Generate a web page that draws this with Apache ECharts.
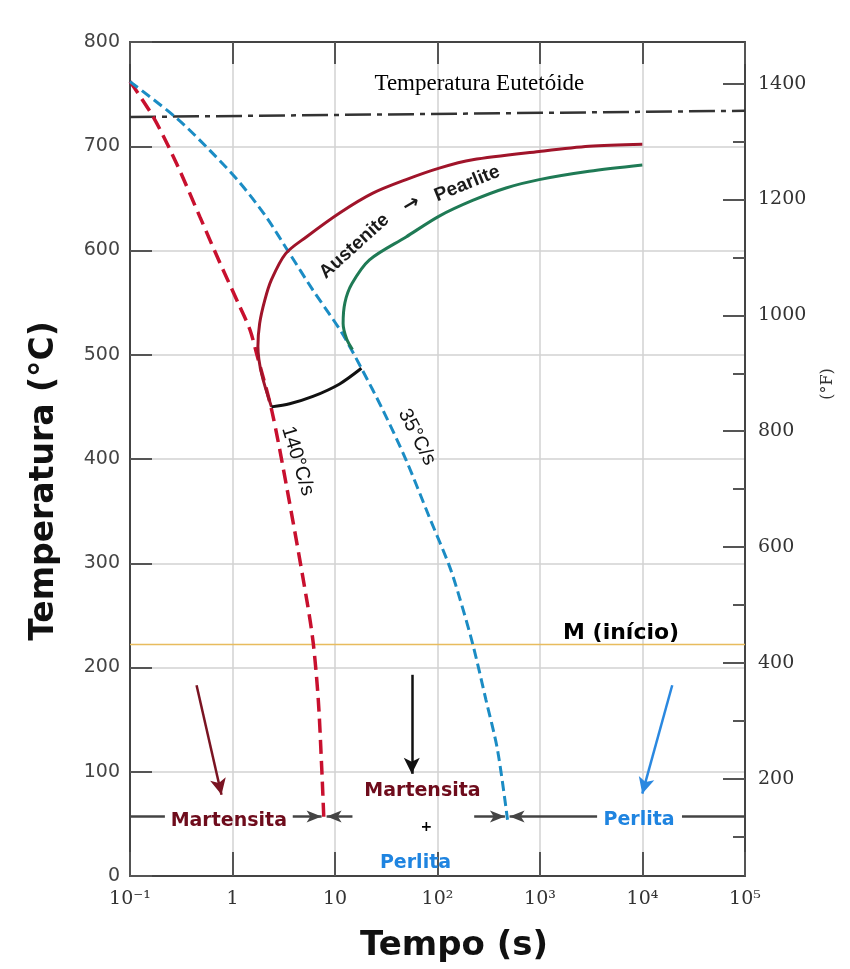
<!DOCTYPE html>
<html><head><meta charset="utf-8">
<script src="https://cdn.jsdelivr.net/npm/echarts@6/dist/echarts.min.js"></script>
<style>html,body{margin:0;padding:0;background:#fff}#c{width:850px;height:969px}</style>
</head><body><div id="c"></div>
<script>
// ---- data ----
const xTickLabels = ['10\u207B\u00B9','1','10','10\u00B2','10\u00B3','10\u2074','10\u2075'];
const fMajorTicks = [200,400,600,800,1000,1200,1400];
const fMinorTicks = [100,300,500,700,900,1100,1300];

// cooling curves [time s, temperature °C]
const cool140 = [[0.1,762],[0.169,728],[0.286,683],[0.482,632],[0.755,588],[1.18,546],[1.48,524],[1.72,501],[2.41,447],[3.38,373],[5.30,265],[6.14,223],[6.87,169],[7.41,105],[7.81,51]];
const cool35 = [[0.1,762],[0.285,727],[0.601,696],[1.18,665],[2.14,632],[3.61,597],[6.09,562],[11.5,522],[18.1,487],[29.3,447],[49.4,399],[83.4,344],[131,297],[163,268],[220,223],[297,169],[385,121],[482,54]];
// transformation curves
const pearliteStart = [[2.40,450],[1.92,482],[1.77,508],[1.84,530],[2.06,552],[2.40,572],[3.3,597],[5.25,613],[11.1,636],[23.4,655],[49.4,668],[104,679],[220,687],[982,695],[3013,700],[9960,702]];
const pearliteFinish = [[14.8,505],[13.0,515],[12.0,530],[12.5,550],[14.6,568],[21.7,591],[49.4,613],[104,633],[220,648],[466,660],[982,668],[3013,676],[9960,682]];
const transitionStop = [[2.40,450],[3.61,453],[6.09,460],[11.1,472],[18.1,487]];
const eutectoid = [[0.1,728],[1e5,734]];
const msLine = [[0.1,222],[1e5,222]];

// product line at the bottom
const productLevel = 57;
const productPlain = [[0.1,0.219],[24270,1e5]];
const productArrows = [[3.87,7.4],[14.8,8.28],[228,455],[3606,505]]; // [from, to] arrow head at "to"

// annotation arrows [from time, from T, to time, to T]
const noteArrows = [[0.446,183,0.781,78],[56.1,193,56.1,98],[19500,183,9950,79]];

// text annotations
const labelTexts = ['Temperatura Eutet\u00F3ide','Austenite','\u2192','Pearlite','140\u00B0C/s','35\u00B0C/s','M (in\u00EDcio)','Martensita','Martensita','+','Perlita','Perlita'];
const labelX = [256, 15.5, 55.7, 195, 4.33, 63, 6180, 0.92, 71.3, 78, 61, 9250];
const labelT = [760, 604, 644, 664, 398, 421, 233, 53, 81, 47, 12.5, 54];

// ---- styles ----
const labelStyles = [
  {fontFamily:'Liberation Serif', fontSize:23, color:'#000', rotate:0},
  {fontFamily:'Liberation Sans', fontWeight:'bold', fontSize:19, color:'#1a1a1a', rotate:42},
  {fontFamily:'DejaVu Sans', fontWeight:'bold', fontSize:20, color:'#1a1a1a', rotate:30},
  {fontFamily:'Liberation Sans', fontWeight:'bold', fontSize:19, color:'#1a1a1a', rotate:22},
  {fontFamily:'Liberation Sans', fontSize:20, color:'#111', rotate:-73},
  {fontFamily:'Liberation Sans', fontSize:20, color:'#111', rotate:-63},
  {fontFamily:'DejaVu Sans', fontWeight:'bold', fontSize:22, color:'#000', rotate:0},
  {fontFamily:'DejaVu Sans', fontWeight:'bold', fontSize:19, color:'#6e0c1c', rotate:0},
  {fontFamily:'DejaVu Sans', fontWeight:'bold', fontSize:19, color:'#6e0c1c', rotate:0},
  {fontFamily:'DejaVu Sans', fontWeight:'bold', fontSize:14, color:'#000', rotate:0},
  {fontFamily:'DejaVu Sans', fontWeight:'bold', fontSize:19, color:'#1f84e0', rotate:0},
  {fontFamily:'DejaVu Sans', fontWeight:'bold', fontSize:19, color:'#1f84e0', rotate:0}
];
const noteColors = ['#7a1422','#111','#2a88e0'];

const chart = echarts.init(document.getElementById('c'), null, {renderer:'canvas'});

const productMarks = [];
productPlain.forEach(s => productMarks.push([
  {coord:[s[0],productLevel], symbol:'none', lineStyle:{color:'#444', width:2.5, type:'solid'}},
  {coord:[s[1],productLevel], symbol:'none'}
]));
productArrows.forEach(s => productMarks.push([
  {coord:[s[0],productLevel], symbol:'none', lineStyle:{color:'#444', width:2.5, type:'solid'}},
  {coord:[s[1],productLevel], symbol:'arrow', symbolSize:[9,15]}
]));
noteArrows.forEach((a,i) => productMarks.push([
  {coord:[a[0],a[1]], symbol:'none', lineStyle:{color:noteColors[i], width:2.5, type:'solid'}},
  {coord:[a[2],a[3]], symbol:'arrow', symbolSize:[12,16], itemStyle:{color:noteColors[i]}}
]));

const labelData = labelTexts.map((t,i) => ({
  value:[labelX[i], labelT[i]],
  label:Object.assign({show:true, position:[0,0], formatter:t, align:'center', verticalAlign:'middle',
    opacity:1, textBorderWidth:0, textShadowBlur:0}, labelStyles[i])
}));

const axisLineStyle = {color:'#444', width:2};
const tickStyle = {color:'#555', width:2};
const gridLine = {show:true, lineStyle:{color:'#d2d2d2', width:1.5}};

chart.setOption({
  animation:false,
  backgroundColor:'#fff',
  grid:{left:130, right:105, top:42, bottom:93, containLabel:false},
  xAxis:[
    {type:'log', logBase:10, min:0.1, max:1e5, splitNumber:6, position:'bottom',
     axisLine:{show:true, onZero:false, lineStyle:axisLineStyle},
     axisTick:{show:true, inside:true, length:24, lineStyle:tickStyle},
     axisLabel:{show:true, margin:14, fontFamily:'DejaVu Serif', fontSize:19, color:'#333',
       formatter:v => xTickLabels[Math.round(Math.log10(v)) + 1] || ''},
     splitLine:gridLine},
    {type:'log', logBase:10, min:0.1, max:1e5, splitNumber:6, position:'top',
     axisLine:{show:true, onZero:false, lineStyle:axisLineStyle},
     axisTick:{show:true, inside:true, length:22, lineStyle:tickStyle},
     axisLabel:{show:false}, splitLine:{show:false}}
  ],
  yAxis:[
    {type:'value', min:0, max:800, interval:100, position:'left',
     axisLine:{show:true, onZero:false, lineStyle:axisLineStyle},
     axisTick:{show:true, inside:true, length:22, lineStyle:tickStyle},
     axisLabel:{margin:10, fontFamily:'DejaVu Sans', fontSize:19, color:'#444'},
     splitLine:gridLine},
    {type:'value', min:32, max:1472, position:'right',
     axisLine:{show:true, onZero:false, lineStyle:axisLineStyle},
     axisTick:{show:true, inside:true, length:22, lineStyle:tickStyle, customValues:fMajorTicks},
     axisLabel:{show:true, margin:13, fontFamily:'DejaVu Serif', fontSize:19, color:'#333',
       customValues:fMajorTicks, formatter:v => String(Math.round(v))},
     splitLine:{show:false}},
    {type:'value', min:32, max:1472, position:'right',
     axisLine:{show:false},
     axisTick:{show:true, inside:true, length:12, lineStyle:tickStyle, customValues:fMinorTicks},
     axisLabel:{show:false, customValues:fMinorTicks},
     splitLine:{show:false}}
  ],
  graphic:[
    {type:'text', x:44, y:481, rotation:Math.PI/2,
     style:{text:'Temperatura (\u00B0C)', x:0, y:0, align:'center', verticalAlign:'middle',
       font:'bold 33px "DejaVu Sans"', fill:'#111'}},
    {type:'text', x:454, y:946,
     style:{text:'Tempo (s)', x:0, y:0, align:'center', verticalAlign:'middle',
       font:'bold 34px "DejaVu Sans"', fill:'#111'}},
    {type:'text', x:828, y:384, rotation:Math.PI/2,
     style:{text:'(\u00B0F)', x:0, y:0, align:'center', verticalAlign:'middle',
       font:'16px "DejaVu Serif"', fill:'#333'}}
  ],
  series:[
    {name:'Eutectoid', type:'line', data:eutectoid, symbol:'none', silent:true,
     lineStyle:{color:'#333', width:2.5, type:[26,6,5,6]}},
    {name:'Ms', type:'line', data:msLine, symbol:'none', silent:true,
     lineStyle:{color:'#e8bc5e', width:1.5}},
    {name:'140 C/s', type:'line', data:cool140, symbol:'none', smooth:0.3, silent:true,
     lineStyle:{color:'#c8102e', width:3.5, type:[14,7]}},
    {name:'35 C/s', type:'line', data:cool35, symbol:'none', smooth:0.3, silent:true,
     lineStyle:{color:'#1b8cc4', width:3, type:[10,5]}},
    {name:'Pearlite start', type:'line', data:pearliteStart, symbol:'none', smooth:0.3, silent:true,
     lineStyle:{color:'#a0142a', width:3}},
    {name:'Pearlite finish', type:'line', data:pearliteFinish, symbol:'none', smooth:0.3, silent:true,
     lineStyle:{color:'#1f7a55', width:3}},
    {name:'Stop', type:'line', data:transitionStop, symbol:'none', smooth:0.3, silent:true,
     lineStyle:{color:'#111', width:3},
     markLine:{silent:true, animation:false, label:{show:false}, symbol:['none','none'], data:productMarks}},
    {name:'Labels', type:'scatter', data:labelData, symbolSize:0, silent:true,
     itemStyle:{color:'#000', opacity:1}, z:10}
  ]
});
</script></body></html>
